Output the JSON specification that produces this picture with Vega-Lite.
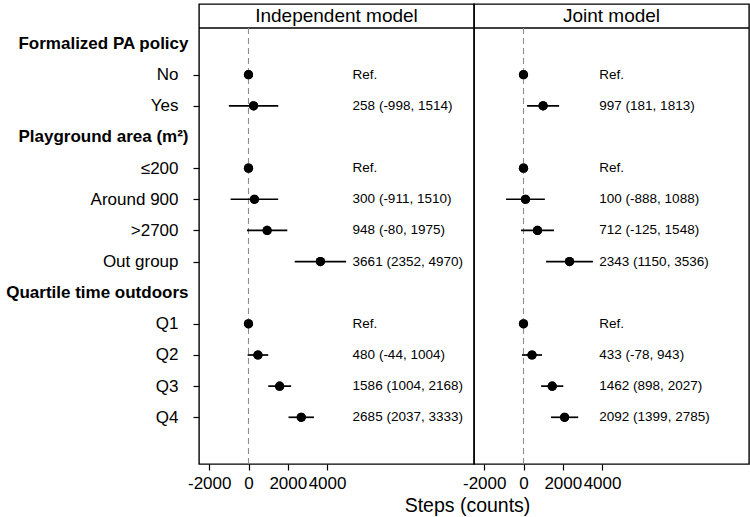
{
  "$schema": "https://vega.github.io/schema/vega-lite/v6.json",
  "padding": {"top": 3, "left": 5, "right": 2, "bottom": 2},
  "background": "white",
  "config": {
    "font": "Liberation Sans",
    "view": {"stroke": "black", "strokeWidth": 1.4},
    "axis": {"labelOverlap": false, "labelLimit": 0, "grid": false, "domain": false}
  },
  "data": {
    "values": [
      {"model": "Independent model", "row": 2, "est": 0, "lo": null, "hi": null, "label": "Ref."},
      {"model": "Independent model", "row": 3, "est": 258, "lo": -998, "hi": 1514, "label": "258 (-998, 1514)"},
      {"model": "Independent model", "row": 5, "est": 0, "lo": null, "hi": null, "label": "Ref."},
      {"model": "Independent model", "row": 6, "est": 300, "lo": -911, "hi": 1510, "label": "300 (-911, 1510)"},
      {"model": "Independent model", "row": 7, "est": 948, "lo": -80, "hi": 1975, "label": "948 (-80, 1975)"},
      {"model": "Independent model", "row": 8, "est": 3661, "lo": 2352, "hi": 4970, "label": "3661 (2352, 4970)"},
      {"model": "Independent model", "row": 10, "est": 0, "lo": null, "hi": null, "label": "Ref."},
      {"model": "Independent model", "row": 11, "est": 480, "lo": -44, "hi": 1004, "label": "480 (-44, 1004)"},
      {"model": "Independent model", "row": 12, "est": 1586, "lo": 1004, "hi": 2168, "label": "1586 (1004, 2168)"},
      {"model": "Independent model", "row": 13, "est": 2685, "lo": 2037, "hi": 3333, "label": "2685 (2037, 3333)"},
      {"model": "Joint model", "row": 2, "est": 0, "lo": null, "hi": null, "label": "Ref."},
      {"model": "Joint model", "row": 3, "est": 997, "lo": 181, "hi": 1813, "label": "997 (181, 1813)"},
      {"model": "Joint model", "row": 5, "est": 0, "lo": null, "hi": null, "label": "Ref."},
      {"model": "Joint model", "row": 6, "est": 100, "lo": -888, "hi": 1088, "label": "100 (-888, 1088)"},
      {"model": "Joint model", "row": 7, "est": 712, "lo": -125, "hi": 1548, "label": "712 (-125, 1548)"},
      {"model": "Joint model", "row": 8, "est": 2343, "lo": 1150, "hi": 3536, "label": "2343 (1150, 3536)"},
      {"model": "Joint model", "row": 10, "est": 0, "lo": null, "hi": null, "label": "Ref."},
      {"model": "Joint model", "row": 11, "est": 433, "lo": -78, "hi": 943, "label": "433 (-78, 943)"},
      {"model": "Joint model", "row": 12, "est": 1462, "lo": 898, "hi": 2027, "label": "1462 (898, 2027)"},
      {"model": "Joint model", "row": 13, "est": 2092, "lo": 1399, "hi": 2785, "label": "2092 (1399, 2785)"}
    ]
  },
  "spacing": 0,
  "bounds": "flush",
  "hconcat": [
    {
      "width": 275,
      "height": 460,
      "transform": [{"filter": "datum.model == 'Independent model'"}],
      "layer": [
        {
          "mark": {"type": "circle", "size": 85, "color": "black", "opacity": 1},
          "encoding": {
            "x": {
              "field": "est", "type": "quantitative",
              "scale": {"domain": [-2520, 11480], "nice": false, "zero": false},
              "axis": {
                "values": [-2000, 0, 2000, 4000], "tickCount": 20, "format": "d", "labelExpr": "replace(datum.label, '−', '-')",
                "labelOverlap": false, "grid": false, "domain": false,
                "tickColor": "black", "tickSize": 6, "tickWidth": 1.2, "labelFontSize": 17, "labelColor": "black", "labelPadding": 5,
                "title": "Steps (counts)", "titleX": 268, "titleAnchor": "middle", "titleAlign": "center", "titleFontSize": 19.5,
                "titleFontWeight": "normal", "titleColor": "black", "titlePadding": 5
              }
            },
            "y": {
              "field": "row", "type": "quantitative",
              "scale": {"domain": [-0.27, 14.5], "reverse": true, "nice": false, "zero": false},
              "axis": {
                "values": [1, 2, 3, 4, 5, 6, 7, 8, 9, 10, 11, 12, 13],
                "tickCount": 30,
                "labelExpr": "['', 'Formalized PA policy', 'No', 'Yes', 'Playground area (m²)', '≤200', 'Around 900', '>2700', 'Out group', 'Quartile time outdoors', 'Q1', 'Q2', 'Q3', 'Q4'][datum.value]",
                "title": null, "grid": false, "domain": false, "tickSize": 6, "tickWidth": 1.2, "tickColor": "black",
                "labelColor": "black", "labelFontSize": 17, "labelBaseline": "middle", "labelLimit": 0, "labelOverlap": false,
                "labelFontWeight": {"condition": {"test": "datum.value == 1 || datum.value == 4 || datum.value == 9", "value": "bold"}, "value": "normal"},
                "labelPadding": {"condition": {"test": "datum.value == 1 || datum.value == 4 || datum.value == 9", "value": 5}, "value": 15},
                "tickOpacity": {"condition": {"test": "datum.value == 1 || datum.value == 4 || datum.value == 9", "value": 0}, "value": 1},
                "minExtent": 193, "maxExtent": 193
              }
            }
          }
        },
        {
          "data": {"values": [{"panel": "Independent model"}]},
          "mark": {"type": "rule", "color": "black", "strokeWidth": 1.4},
          "encoding": {
            "y": {"datum": 0.5, "type": "quantitative", "scale": {"domain": [-0.27, 14.5], "reverse": true, "nice": false, "zero": false}}
          }
        },
        {
          "data": {"values": [{"panel": "Independent model"}]},
          "mark": {"type": "text", "fontSize": 19, "align": "center", "baseline": "middle", "color": "black"},
          "encoding": {
            "x": {"datum": 4480, "type": "quantitative", "scale": {"domain": [-2520, 11480], "nice": false, "zero": false}},
            "y": {"datum": 0.115, "type": "quantitative", "scale": {"domain": [-0.27, 14.5], "reverse": true, "nice": false, "zero": false}},
            "text": {"field": "panel"}
          }
        },
        {
          "data": {"values": [{"panel": "Independent model"}]},
          "mark": {"type": "rule", "color": "#8c8c8c", "strokeWidth": 1.1, "strokeDash": [6, 4]},
          "encoding": {
            "x": {"datum": 0, "type": "quantitative", "scale": {"domain": [-2520, 11480], "nice": false, "zero": false}},
            "y": {"datum": 0.5, "type": "quantitative", "scale": {"domain": [-0.27, 14.5], "reverse": true, "nice": false, "zero": false}},
            "y2": {"datum": 14.5}
          }
        },
        {
          "mark": {"type": "rule", "color": "black", "strokeWidth": 1.7},
          "encoding": {
            "x": {"field": "lo", "type": "quantitative", "scale": {"domain": [-2520, 11480], "nice": false, "zero": false}},
            "x2": {"field": "hi"},
            "y": {"field": "row", "type": "quantitative", "scale": {"domain": [-0.27, 14.5], "reverse": true, "nice": false, "zero": false}}
          }
        },
        {
          "mark": {"type": "circle", "size": 85, "color": "black", "opacity": 1},
          "encoding": {
            "x": {"field": "est", "type": "quantitative", "scale": {"domain": [-2520, 11480], "nice": false, "zero": false}},
            "y": {"field": "row", "type": "quantitative", "scale": {"domain": [-0.27, 14.5], "reverse": true, "nice": false, "zero": false}}
          }
        },
        {
          "mark": {"type": "text", "fontSize": 13.5, "align": "left", "baseline": "middle", "color": "black"},
          "encoding": {
            "x": {"datum": 5300, "type": "quantitative", "scale": {"domain": [-2520, 11480], "nice": false, "zero": false}},
            "y": {"field": "row", "type": "quantitative", "scale": {"domain": [-0.27, 14.5], "reverse": true, "nice": false, "zero": false}},
            "text": {"field": "label"}
          }
        }
      ]
    },
    {
      "width": 275,
      "height": 460,
      "transform": [{"filter": "datum.model == 'Joint model'"}],
      "layer": [
        {
          "mark": {"type": "circle", "size": 85, "color": "black", "opacity": 1},
          "encoding": {
            "x": {
              "field": "est", "type": "quantitative",
              "scale": {"domain": [-2520, 11480], "nice": false, "zero": false},
              "axis": {
                "values": [-2000, 0, 2000, 4000], "tickCount": 20, "format": "d", "labelExpr": "replace(datum.label, '−', '-')",
                "labelOverlap": false, "grid": false, "domain": false,
                "tickColor": "black", "tickSize": 6, "tickWidth": 1.2, "labelFontSize": 17, "labelColor": "black", "labelPadding": 5,
                "title": null
              }
            },
            "y": {"field": "row", "type": "quantitative", "scale": {"domain": [-0.27, 14.5], "reverse": true, "nice": false, "zero": false}, "axis": null}
          }
        },
        {
          "data": {"values": [{"panel": "Joint model"}]},
          "mark": {"type": "rule", "color": "black", "strokeWidth": 1.4},
          "encoding": {
            "y": {"datum": 0.5, "type": "quantitative", "scale": {"domain": [-0.27, 14.5], "reverse": true, "nice": false, "zero": false}, "axis": null}
          }
        },
        {
          "data": {"values": [{"panel": "Joint model"}]},
          "mark": {"type": "text", "fontSize": 19, "align": "center", "baseline": "middle", "color": "black"},
          "encoding": {
            "x": {"datum": 4480, "type": "quantitative", "scale": {"domain": [-2520, 11480], "nice": false, "zero": false}},
            "y": {"datum": 0.115, "type": "quantitative", "scale": {"domain": [-0.27, 14.5], "reverse": true, "nice": false, "zero": false}, "axis": null},
            "text": {"field": "panel"}
          }
        },
        {
          "data": {"values": [{"panel": "Joint model"}]},
          "mark": {"type": "rule", "color": "#8c8c8c", "strokeWidth": 1.1, "strokeDash": [6, 4]},
          "encoding": {
            "x": {"datum": 0, "type": "quantitative", "scale": {"domain": [-2520, 11480], "nice": false, "zero": false}},
            "y": {"datum": 0.5, "type": "quantitative", "scale": {"domain": [-0.27, 14.5], "reverse": true, "nice": false, "zero": false}, "axis": null},
            "y2": {"datum": 14.5}
          }
        },
        {
          "mark": {"type": "rule", "color": "black", "strokeWidth": 1.7},
          "encoding": {
            "x": {"field": "lo", "type": "quantitative", "scale": {"domain": [-2520, 11480], "nice": false, "zero": false}},
            "x2": {"field": "hi"},
            "y": {"field": "row", "type": "quantitative", "scale": {"domain": [-0.27, 14.5], "reverse": true, "nice": false, "zero": false}, "axis": null}
          }
        },
        {
          "mark": {"type": "circle", "size": 85, "color": "black", "opacity": 1},
          "encoding": {
            "x": {"field": "est", "type": "quantitative", "scale": {"domain": [-2520, 11480], "nice": false, "zero": false}},
            "y": {"field": "row", "type": "quantitative", "scale": {"domain": [-0.27, 14.5], "reverse": true, "nice": false, "zero": false}, "axis": null}
          }
        },
        {
          "mark": {"type": "text", "fontSize": 13.5, "align": "left", "baseline": "middle", "color": "black"},
          "encoding": {
            "x": {"datum": 3860, "type": "quantitative", "scale": {"domain": [-2520, 11480], "nice": false, "zero": false}},
            "y": {"field": "row", "type": "quantitative", "scale": {"domain": [-0.27, 14.5], "reverse": true, "nice": false, "zero": false}, "axis": null},
            "text": {"field": "label"}
          }
        }
      ]
    }
  ]
}
